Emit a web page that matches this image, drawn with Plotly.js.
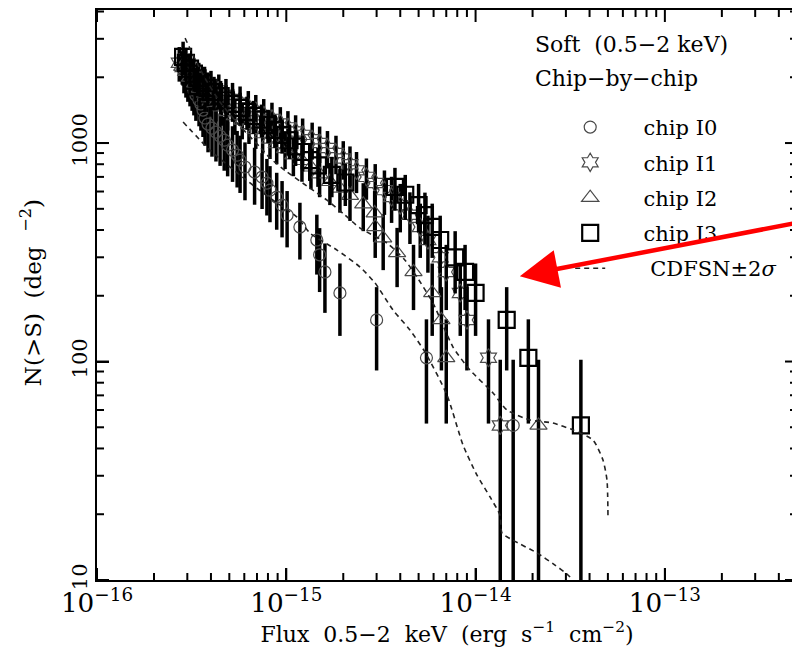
<!DOCTYPE html>
<html><head><meta charset="utf-8">
<script src="https://cdn.plot.ly/plotly-3.0.1.min.js"></script>
<style>html,body{margin:0;padding:0;overflow:hidden;background:#fff}</style>
</head><body><div id="chart" style="width:800px;height:649px"></div>
<script>
// ---- data (flux in erg s^-1 cm^-2, N(>S) in deg^-2) ----
const fluxI0 = [15.8e-15,5.5e-15,3.0e-15,1.92e-15,1.6e-15,1.5e-15,1.45e-15,1.18e-15,1.01e-15,0.95e-15,0.89e-15,0.82e-15,0.79e-15,0.745e-15,0.68e-15,0.605e-15,0.57e-15,0.55e-15,0.52e-15,0.49e-15,0.47e-15,0.447e-15,0.425e-15,0.405e-15,0.386e-15,0.372e-15,0.363e-15,0.354e-15,0.346e-15,0.333e-15,0.325e-15,0.318e-15,0.31e-15,0.302e-15,0.295e-15,0.288e-15];
const nI0 = [51,104,155,206,257,308,360,413,468,520,566,609,656,699,737,777,836,881,929,979,1032,1076,1123,1171,1222,1302,1416,1509,1573,1658,1748,1824,1902,1984,2069,2159];
const errI0 = [51,52,64,75,90,100,110,120,135,150,165,175,190,200,215,230,245,255,265,275,285,290,300,305,315,330,350,370,380,395,410,420,430,440,455,470];

const fluxI1 = [13.5e-15,11.7e-15,9.0e-15,8.3e-15,7.0e-15,6.5e-15,5.6e-15,5.1e-15,4.5e-15,4.0e-15,3.6e-15,3.3e-15,2.95e-15,2.65e-15,2.35e-15,2.17e-15,2.0e-15,1.83e-15,1.65e-15,1.5e-15,1.37e-15,1.22e-15,1.12e-15,1.02e-15,0.93e-15,0.84e-15,0.76e-15,0.69e-15,0.63e-15,0.57e-15,0.52e-15,0.48e-15,0.44e-15,0.40e-15,0.37e-15,0.345e-15,0.32e-15,0.30e-15,0.285e-15,0.272e-15];
const nI1 = [51,104,155,206,257,300,360,413,470,520,566,609,656,700,750,800,850,900,950,1000,1040,1090,1130,1180,1230,1290,1340,1400,1460,1530,1590,1660,1740,1810,1890,1970,2050,2140,2230,2330];
const errI1 = [51,52,64,75,85,95,105,115,125,130,135,140,145,150,160,165,170,180,185,190,200,205,210,220,230,240,250,260,270,285,295,305,320,330,345,360,370,385,400,420];

const fluxI2 = [21.5e-15,7.0e-15,6.6e-15,5.9e-15,4.7e-15,3.85e-15,3.25e-15,2.95e-15,2.93e-15,2.55e-15,2.17e-15,1.92e-15,1.7e-15,1.5e-15,1.35e-15,1.21e-15,1.09e-15,0.985e-15,0.89e-15,0.82e-15,0.75e-15,0.69e-15,0.635e-15,0.585e-15,0.535e-15,0.49e-15,0.455e-15,0.425e-15,0.395e-15,0.372e-15,0.35e-15,0.33e-15,0.31e-15,0.295e-15,0.282e-15];
const nI2 = [51,104,155,206,257,314,367,413,478,525,575,620,665,720,775,830,880,940,990,1040,1100,1150,1210,1270,1330,1390,1460,1530,1610,1690,1780,1880,2000,2120,2240];
const errI2 = [51,52,64,75,85,95,105,115,125,130,135,140,145,155,160,165,175,180,190,195,205,210,220,230,240,250,260,275,290,300,315,330,350,370,390];

const fluxI3 = [36e-15,19e-15,14.6e-15,10e-15,8.8e-15,7.8e-15,6.5e-15,5.9e-15,5.4e-15,5.0e-15,4.25e-15,3.75e-15,2.05e-15,1.74e-15,1.47e-15,1.33e-15,1.22e-15,1.12e-15,1.04e-15,0.95e-15,0.87e-15,0.80e-15,0.74e-15,0.67e-15,0.62e-15,0.57e-15,0.52e-15,0.48e-15,0.45e-15,0.415e-15,0.385e-15,0.363e-15,0.34e-15,0.325e-15,0.31e-15,0.295e-15,0.285e-15];
const nI3 = [51,104,155,206,257,300,360,413,468,520,580,630,660,715,790,836,910,965,1030,1090,1150,1210,1280,1330,1390,1450,1510,1570,1640,1710,1790,1880,1980,2080,2190,2330,2480];
const errI3 = [51,52,64,75,85,95,105,115,125,130,135,140,145,150,160,165,170,180,185,195,200,210,220,230,240,250,260,270,285,300,315,330,345,360,380,400,430];

// CDFS-N logN-logS +/- 2 sigma envelope
const cdfsUpperFlux = [0.292e-15,0.3215e-15,0.372e-15,0.4465e-15,0.569e-15,0.726e-15,0.82e-15,1.009e-15,1.334e-15,1.641e-15,2.042e-15,2.452e-15,3.404e-15,4.238e-15,4.90e-15,5.957e-15,7.597e-15,9.342e-15,12.36e-15,14.65e-15,19.38e-15,25.64e-15,32.69e-15,41.71e-15,47.1e-15,49.45e-15,50.06e-15];
const cdfsUpperN = [3023,2527,1984,1540,1196,959,854,737,622,548,468,408,348.6,291,243.6,185.2,116.5,91.4,71.8,60.0,54.0,52.3,48.6,43.7,35.4,28.7,19.4];
const cdfsLowerFlux = [0.285e-15,0.395e-15,0.569e-15,0.82e-15,1.139e-15,1.334e-15,1.853e-15,2.452e-15,2.942e-15,3.662e-15,4.503e-15,5.404e-15,7.062e-15,8.58e-15,10.17e-15,11.92e-15,13.46e-15,13.79e-15,15.76e-15,21.11e-15,26.27e-15,30.4e-15,32.7e-15];
const cdfsLowerN = [1248,929,714,560,458,387,323.8,270.7,228.8,172.1,139.4,110.5,70.3,41.5,30.2,24.0,19.8,16.4,15.2,13.3,11.7,10.65,10.0];

const chipNames = ['chip I0','chip I1','chip I2','chip I3'];
// axis ranges (log10), decades and minor tick multipliers
const xRange = [-16, -12.302];
const yRange = [1, 3.609];
const xDecades = [-16, -15, -14, -13, -12];
const yDecades = [1, 2, 3];
const tickMults = [1, 2, 3, 4, 5, 6, 7, 8, 9];

const pad = '\u00a0\u00a0\u00a0\u00a0\u00a0';

// plot-area size in px (layout width/height minus margins)
const M = {l: 97, r: 3, t: 10, b: 69};
const W = 800, H = 649;
const PW = W - M.l - M.r, PH = H - M.t - M.b;

// ---- traces ----
function chip(name, x, y, err, marker, grp) {
  return {
    type: 'scatter', mode: 'markers', name: pad + name, x: x, y: y,
    legendgroup: grp,
    marker: marker,
    error_y: {type: 'data', array: err, visible: true, color: '#000', thickness: 3.5, width: 0}
  };
}
const grey = '#4a4a4a';
const traces = [
  chip(chipNames[0], fluxI0, nI0, errI0, {symbol: 'circle-open', size: 12, color: grey, line: {width: 1.2}}, 'g0'),
  chip(chipNames[1], fluxI1, nI1, errI1, {symbol: 'hexagram-open', size: 14, color: grey, line: {width: 1.2}}, 'g1'),
  chip(chipNames[2], fluxI2, nI2, errI2, {symbol: 'triangle-up-open', size: 15, color: grey, line: {width: 1.2}}, 'g2'),
  chip(chipNames[3], fluxI3, nI3, errI3, {symbol: 'square-open', size: 16, color: '#000', line: {width: 2.2}}, 'g3'),
  {type: 'scatter', mode: 'lines', name: '\u00a0\u00a0\u00a0\u00a0\u00a0\u00a0CDFSN±2<i>σ</i>', legendgroup: 'g4',
   x: cdfsUpperFlux, y: cdfsUpperN, line: {color: '#222', width: 1.6, dash: '5px,4px', shape: 'spline', smoothing: 0.6}},
  {type: 'scatter', mode: 'lines', showlegend: false, legendgroup: 'g4',
   x: cdfsLowerFlux, y: cdfsLowerN, line: {color: '#222', width: 1.6, dash: '5px,4px', shape: 'spline', smoothing: 0.6}}
];

// ---- inward tick marks on the four frame sides, drawn as one-sided error bars ----
(function addTicks() {
  const dexX = (xRange[1] - xRange[0]) / PW;   // decades per pixel
  const dexY = (yRange[1] - yRange[0]) / PH;
  const yLo = Math.pow(10, yRange[0]), yHi = Math.pow(10, yRange[1]);
  const xLo = Math.pow(10, xRange[0]), xHi = Math.pow(10, xRange[1]);
  const xv = [], xUp = [], xDn = [], zx = [], yLoArr = [], yHiArr = [];
  xDecades.forEach(function (d) { tickMults.forEach(function (m) {
    const lv = d + Math.log10(m);
    if (lv < xRange[0] - 1e-9 || lv > xRange[1]) return;
    const L = m === 1 ? 12 : 7;
    xv.push(Math.pow(10, lv));
    xUp.push(Math.pow(10, yRange[0] + L * dexY) - yLo);
    xDn.push(yHi - Math.pow(10, yRange[1] - L * dexY));
    zx.push(0); yLoArr.push(yLo); yHiArr.push(yHi);
  }); });
  const yv = [], yRt = [], yLf = [], zy = [], xLoArr = [], xHiArr = [];
  yDecades.forEach(function (d) { tickMults.forEach(function (m) {
    const lv = d + Math.log10(m);
    if (lv < yRange[0] - 1e-9 || lv > yRange[1]) return;
    const L = m === 1 ? 12 : 7;
    yv.push(Math.pow(10, lv));
    yRt.push(Math.pow(10, xRange[0] + L * dexX) - xLo);
    yLf.push(xHi - Math.pow(10, xRange[1] - L * dexX));
    zy.push(0); xLoArr.push(xLo); xHiArr.push(xHi);
  }); });
  const base = {type: 'scatter', mode: 'markers', showlegend: false, hoverinfo: 'skip',
                marker: {size: 2, opacity: 0, color: '#000'}};
  const eb = {type: 'data', symmetric: false, visible: true, color: '#000', thickness: 2, width: 0};
  traces.push(Object.assign({}, base, {x: xv, y: yLoArr, error_y: Object.assign({}, eb, {array: xUp, arrayminus: zx})}));
  traces.push(Object.assign({}, base, {x: xv, y: yHiArr, error_y: Object.assign({}, eb, {array: zx, arrayminus: xDn})}));
  traces.push(Object.assign({}, base, {x: xLoArr, y: yv, error_x: Object.assign({}, eb, {array: yRt, arrayminus: zy})}));
  traces.push(Object.assign({}, base, {x: xHiArr, y: yv, error_x: Object.assign({}, eb, {array: zy, arrayminus: yLf})}));
})();

const FONT = 'DejaVu Serif';
const axisCommon = {
  type: 'log', dtick: 1, ticks: 'inside', ticklen: 12, tickwidth: 2, tickcolor: '#000',
  showline: true, linewidth: 2, linecolor: '#000', mirror: true,
  showgrid: false, zeroline: false,
  tickfont: {family: FONT, size: 21, color: '#000'}
};

const layout = {
  width: W, height: H,
  margin: M,
  paper_bgcolor: '#fff', plot_bgcolor: '#fff',
  font: {family: FONT, size: 21, color: '#000'},
  showlegend: true,
  legend: {x: 0.676, y: 0.83, xanchor: 'left', yanchor: 'top', bgcolor: 'rgba(0,0,0,0)',
           borderwidth: 0, traceorder: 'grouped', tracegroupgap: 5,
           font: {family: FONT, size: 21, color: '#000'}},
  xaxis: Object.assign({}, axisCommon, {
    range: xRange, exponentformat: 'power', showexponent: 'all',
    title: {text: 'Flux\u00a0 0.5−2\u00a0 keV\u00a0 (erg\u00a0 s<sup>−1</sup>\u00a0 cm<sup>−2</sup>)', font: {family: FONT, size: 22}, standoff: 8}
  }),
  yaxis: Object.assign({}, axisCommon, {
    range: yRange, exponentformat: 'none', tickangle: -90
  }),
  annotations: [
    {xref: 'paper', yref: 'paper', x: -0.094, y: 0.5035, xanchor: 'center', yanchor: 'middle', textangle: -90,
     text: 'N(&gt;S)\u00a0 (deg\u00a0 <sup>−2</sup>)', showarrow: false, font: {family: FONT, size: 23}},
    {xref: 'paper', yref: 'paper', x: 0.623, y: 0.9386, xanchor: 'left', yanchor: 'middle',
     text: 'Soft\u00a0 (0.5−2 keV)', showarrow: false, font: {family: FONT, size: 22}},
    {xref: 'paper', yref: 'paper', x: 0.623, y: 0.8807, xanchor: 'left', yanchor: 'middle',
     text: 'Chip−by−chip', showarrow: false, font: {family: FONT, size: 22}},
    {xref: 'paper', yref: 'paper', x: 0.604, y: 0.533, text: '', showarrow: true,
     ax: 280, ay: -54, axref: 'pixel', ayref: 'pixel',
     arrowhead: 2, arrowsize: 1.7, arrowwidth: 4.5, arrowcolor: '#ff0000', standoff: 0}
  ]
};

Plotly.newPlot('chart', traces, layout, {displayModeBar: false, staticPlot: true});
</script>
</body></html>
